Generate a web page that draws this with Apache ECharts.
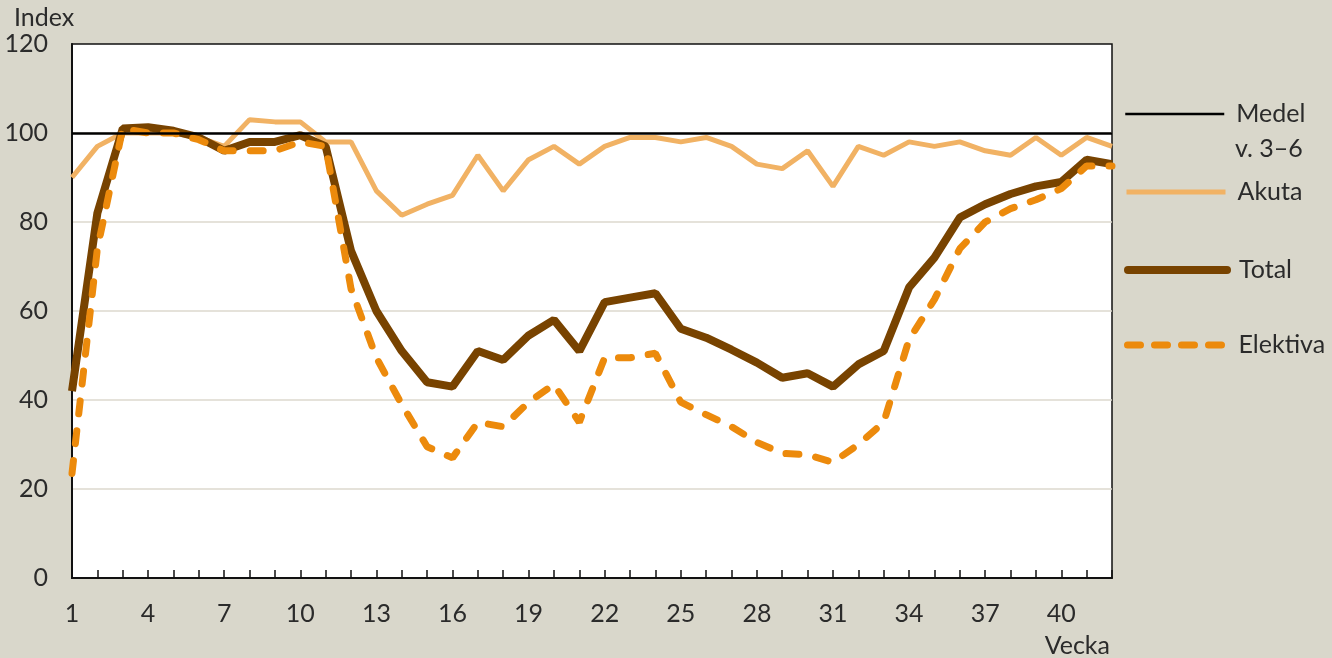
<!DOCTYPE html>
<html>
<head>
<meta charset="utf-8">
<script src="https://cdn.jsdelivr.net/npm/echarts@6/dist/echarts.min.js"></script>
<style>
  html, body { margin: 0; padding: 0; background: #d9d7cb; }
  #chartmain { width: 1332px; height: 658px; }
</style>
</head>
<body>
<div id="chartmain"></div>
<script>
// veckor 1-42
var weeks = ['1','2','3','4','5','6','7','8','9','10','11','12','13','14','15','16','17','18','19','20','21',
             '22','23','24','25','26','27','28','29','30','31','32','33','34','35','36','37','38','39','40','41','42'];

var akuta = [90, 97, 100, 100, 100, 99, 97, 103, 102.5, 102.5, 98, 98, 87, 81.5, 84, 86, 95, 87, 94, 97, 93,
             97, 99, 99, 98, 99, 97, 93, 92, 96, 88, 97, 95, 98, 97, 98, 96, 95, 99, 95, 99, 97];

var total = [42, 82, 101, 101.3, 100.5, 99, 96, 98, 98, 99.5, 97, 73.5, 60, 51, 44, 43, 51, 49, 54.5, 58, 51,
             62, 63, 64, 56, 54, 51.3, 48.4, 45, 46, 43, 48, 51, 65.3, 72, 81, 84, 86.3, 88, 89, 94, 93];

var elektiva = [23.5, 74, 101, 100, 100, 98.5, 96, 96, 96, 98, 97, 65, 49.5, 39, 29.5, 27, 35, 34, 39.5, 43.5, 35,
                49.5, 49.5, 50.5, 39.5, 36.7, 34, 30.5, 28, 27.7, 26, 30, 35, 53.6, 62.6, 74, 80, 83, 85, 87.5, 92.6, 92.6];

var medelLevel = 100;

var yTicks = { min: 0, max: 120, interval: 20 };

var textColor = '#2b2b2b';
var fontFam = 'Lato';

var colMedel = '#000000';
var colAkuta = '#f1b264';
var colTotal = '#784300';
var colElektiva = '#ec8a0c';

var myChart = echarts.init(document.getElementById('chartmain'));

// en legend per serie, så att raderna hamnar som i originalet
function oneLegend(name, top, ls) {
    return {
        data: [name],
        left: 1124,
        top: top,
        padding: 0,
        orient: 'vertical',
        itemWidth: 99,
        itemHeight: 14,
        itemStyle: { color: 'rgba(0,0,0,0)', borderWidth: 0 },
        lineStyle: ls,
        textStyle: { color: textColor, fontFamily: fontFam, fontSize: 25, lineHeight: 30, padding: [0, 0, 0, 7] }
    };
}

var option = {
    backgroundColor: '#d9d7cb',
    animation: false,
    grid: {
        left: 72, right: 220, top: 44, bottom: 80,
        show: true,
        backgroundColor: '#ffffff',
        borderColor: '#111111',
        borderWidth: 1.5
    },
    legend: [
        oneLegend('Medel', 99, { color: colMedel, width: 2.5, type: 'solid' }),
        oneLegend('Akuta', 177, { color: colAkuta, width: 5, type: 'solid' }),
        oneLegend('Total', 255, { color: colTotal, width: 8, type: 'solid', cap: 'round' }),
        oneLegend('Elektiva', 330, { color: colElektiva, width: 7, type: [13, 14], cap: 'round' })
    ],
    graphic: [
        { type: 'text', left: 1235, top: 136, style: { text: 'v. 3–6', fill: textColor, font: '25px ' + fontFam } },
        { type: 'text', left: 14, top: 5, style: { text: 'Index', fill: textColor, font: '25px ' + fontFam } },
        { type: 'text', right: 222, top: 633, style: { text: 'Vecka', fill: textColor, font: '25px ' + fontFam } }
    ],
    xAxis: {
        type: 'category',
        data: weeks,
        boundaryGap: false,
        axisLine: { lineStyle: { color: '#111111', width: 2 } },
        axisTick: { show: true, inside: true, length: 8, interval: 0, lineStyle: { color: '#111111', width: 1.5 } },
        axisLabel: { interval: 2, color: textColor, fontFamily: fontFam, fontSize: 25, margin: 23 },
        splitLine: { show: false }
    },
    yAxis: {
        type: 'value',
        min: yTicks.min,
        max: yTicks.max,
        interval: yTicks.interval,
        axisLine: { show: true, lineStyle: { color: '#111111', width: 2 } },
        axisTick: { show: false },
        axisLabel: { color: textColor, fontFamily: fontFam, fontSize: 25, margin: 24 },
        splitLine: { show: true, showMinLine: false, showMaxLine: false, lineStyle: { color: '#dcd9ce', width: 1.5 } }
    },
    series: [
        {
            name: 'Medel',
            type: 'line',
            data: [],
            symbol: 'none',
            lineStyle: { color: colMedel, width: 2.5 },
            itemStyle: { color: colMedel },
            markLine: {
                silent: true,
                symbol: 'none',
                label: { show: false },
                lineStyle: { color: colMedel, width: 2.5, type: 'solid' },
                data: [{ yAxis: medelLevel }]
            },
            z: 1
        },
        {
            name: 'Akuta',
            type: 'line',
            data: akuta,
            symbol: 'none',
            lineStyle: { color: colAkuta, width: 5 },
            itemStyle: { color: colAkuta },
            z: 2
        },
        {
            name: 'Total',
            type: 'line',
            data: total,
            symbol: 'none',
            lineStyle: { color: colTotal, width: 8 },
            itemStyle: { color: colTotal },
            z: 3
        },
        {
            name: 'Elektiva',
            type: 'line',
            data: elektiva,
            symbol: 'none',
            lineStyle: { color: colElektiva, width: 7, type: [13, 17], cap: 'round' },
            itemStyle: { color: colElektiva },
            z: 4
        }
    ]
};

myChart.setOption(option);
</script>
</body>
</html>
